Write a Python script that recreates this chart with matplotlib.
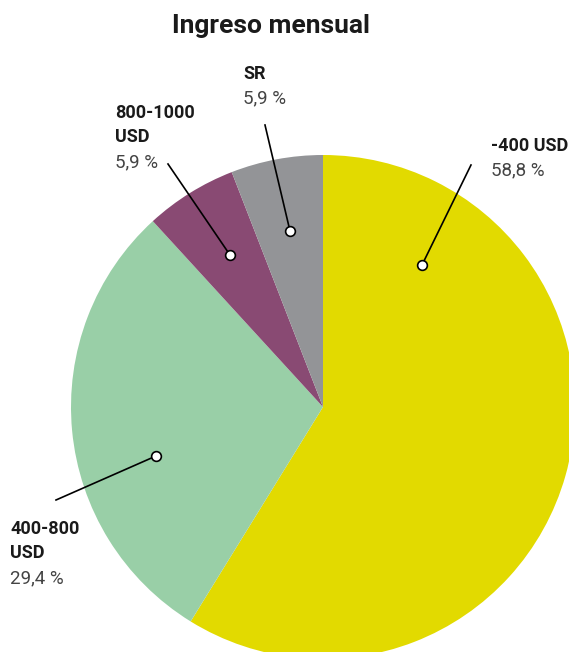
import matplotlib.pyplot as plt

# datos
categorias = ['-400 USD', '400-800\nUSD', '800-1000\nUSD', 'SR']
porcentajes = [58.8, 29.4, 5.9, 5.9]
etiquetas_pct = ['58,8 %', '29,4 %', '5,9 %', '5,9 %']
colores = ['#e2da00', '#99cfa7', '#894a73', '#939497']

W, H = 569, 652
fig = plt.figure(figsize=(W / 100, H / 100), dpi=100)
ax = fig.add_axes([0, 0, 1, 1])
ax.set_xlim(0, W)
ax.set_ylim(0, H)
ax.set_aspect('equal')
ax.axis('off')

cx, cy, r = 323, H - 407, 252
ax.pie(porcentajes, colors=colores, startangle=90, counterclock=False,
       center=(cx, cy), radius=r, frame=True,
       wedgeprops=dict(linewidth=0))
ax.set_xlim(0, W)
ax.set_ylim(0, H)
ax.axis('off')

fig.text(0.477, 1 - 26 / H, 'Ingreso mensual', ha='center', va='center',
         fontsize=19, fontweight='bold', family='Roboto', color='#1a1a1a')

# punto en el sector, fin de la linea, posicion del texto (pixeles)
puntos = [(422, 265), (156, 456), (230, 255), (290, 231)]
fines = [(471, 165), (56, 500), (168, 164), (265, 125)]
textos = [(491, 146), (10, 529), (115, 113), (243, 74)]

for i in range(len(categorias)):
    px, py = puntos[i]
    fx, fy = fines[i]
    ax.plot([px, fx], [H - py, H - fy], color='black', lw=1.2, zorder=3)
    ax.plot(px, H - py, 'o', ms=7, mfc='white', mec='black', mew=1.2, zorder=4)
    tx, ty = textos[i]
    lineas = categorias[i].split('\n')
    for j, l in enumerate(lineas):
        ax.text(tx, H - (ty + 24.5 * j), l, ha='left', va='center',
                fontsize=13, fontweight='bold', family='Roboto', color='#1a1a1a')
    ax.text(tx, H - (ty + 24.5 * len(lineas)), etiquetas_pct[i], ha='left', va='center',
            fontsize=13.5, fontweight='normal', family='Roboto', color='#444444')

fig.savefig('out.png', dpi=100)
